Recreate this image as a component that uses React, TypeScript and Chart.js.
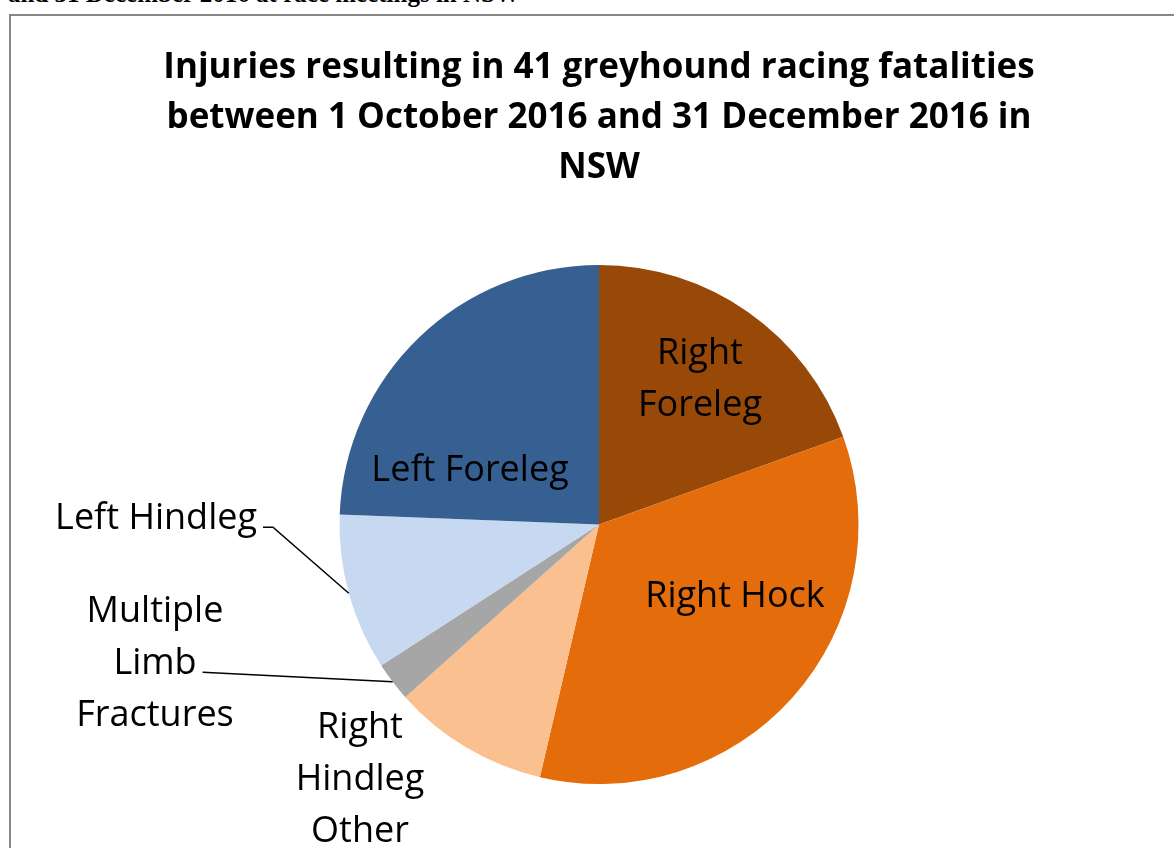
import React, { useEffect, useRef } from "react";
import { Chart, registerables } from "chart.js";

Chart.register(...registerables);

const categories = [
  "Right Foreleg",
  "Right Hock",
  "Right Hindleg Other",
  "Multiple Limb Fractures",
  "Left Hindleg",
  "Left Foreleg",
];
const fatalities = [8, 14, 4, 1, 4, 10];
const sliceColors = ["#984807", "#E46C0A", "#FAC090", "#A6A6A6", "#C6D9F1", "#376092"];
const titleLines = [
  "Injuries resulting in 41 greyhound racing fatalities",
  "between 1 October 2016 and 31 December 2016 in",
  "NSW",
];
const headerText = "and 31 December 2016 at race meetings in NSW";

// label placement relative to pie centre, in units of the pie radius
const labelLayout = [
  { lines: ["Right", "Foreleg"], fx: 0.389, fy: -0.556 },
  { lines: ["Right Hock"], fx: 0.524, fy: 0.277 },
  { lines: ["Right", "Hindleg", "Other"], fx: -0.921, fy: 0.982 },
  { lines: ["Multiple", "Limb", "Fractures"], fx: -1.711, fy: 0.535, leaderLine: 1, elbow: 0 },
  { lines: ["Left Hindleg"], fx: -1.707, fy: -0.024, leaderLine: 0, elbow: 10 },
  { lines: ["Left Foreleg"], fx: -0.497, fy: -0.209 },
];

const FONT = "'Open Sans', Lato, sans-serif";
const LABEL_LH = 52;

const labelPlugin = {
  id: "sliceLabels",
  afterDatasetsDraw(chart: any) {
    const ctx = chart.ctx as CanvasRenderingContext2D;
    const meta = chart.getDatasetMeta(0);
    ctx.save();
    ctx.font = `36px ${FONT}`;
    ctx.fillStyle = "#000";
    ctx.strokeStyle = "#000";
    ctx.lineWidth = 1.5;
    ctx.textAlign = "center";
    ctx.textBaseline = "middle";
    meta.data.forEach((arc: any, i: number) => {
      const { x, y, outerRadius, startAngle, endAngle } = arc.getProps(
        ["x", "y", "outerRadius", "startAngle", "endAngle"],
        true
      );
      const L: any = labelLayout[i];
      const cx = x + L.fx * outerRadius;
      const cy = y + L.fy * outerRadius;
      const n = L.lines.length;
      L.lines.forEach((t: string, k: number) => {
        ctx.fillText(t, cx, cy + (k - (n - 1) / 2) * LABEL_LH);
      });
      if (L.leaderLine !== undefined) {
        const mid = (startAngle + endAngle) / 2;
        const ex = x + Math.cos(mid) * outerRadius;
        const ey = y + Math.sin(mid) * outerRadius;
        const w = ctx.measureText(L.lines[L.leaderLine]).width;
        const ly = cy + (L.leaderLine - (n - 1) / 2) * LABEL_LH + 9;
        const sx = cx + w / 2 + 6;
        ctx.beginPath();
        ctx.moveTo(sx, ly);
        if (L.elbow) ctx.lineTo(sx + L.elbow, ly);
        ctx.lineTo(ex, ey);
        ctx.stroke();
      }
    });
    ctx.restore();
  },
};

export default function App() {
  const canvasRef = useRef<HTMLCanvasElement | null>(null);

  useEffect(() => {
    if (!canvasRef.current) return;
    const chart = new Chart(canvasRef.current, {
      type: "pie",
      data: {
        labels: categories,
        datasets: [
          {
            data: fatalities,
            backgroundColor: sliceColors,
            borderWidth: 0,
          },
        ],
      },
      options: {
        responsive: false,
        animation: false,
        layout: { padding: { top: 0, bottom: 64, left: 0, right: 0 } },
        plugins: {
          legend: { display: false },
          tooltip: { enabled: false },
          title: {
            display: true,
            text: titleLines,
            color: "#000",
            font: { family: FONT, size: 35, weight: "bold", lineHeight: 50 / 35 },
            padding: { top: 27, bottom: 72 },
          },
        },
      },
      plugins: [labelPlugin],
    });
    return () => chart.destroy();
  }, []);

  return (
    <div
      style={{
        position: "fixed",
        left: 0,
        top: 0,
        width: 1174,
        height: 848,
        overflow: "hidden",
        background: "#fff",
      }}
    >
      <div
        style={{
          position: "absolute",
          left: 8,
          top: -19,
          font: "bold 25px 'Liberation Serif', 'DejaVu Serif', serif",
          lineHeight: "25px",
          whiteSpace: "nowrap",
          color: "#000",
        }}
      >
        {headerText}
      </div>
      <div
        style={{
          position: "absolute",
          left: 9,
          top: 14,
          width: 1300,
          height: 1000,
          border: "2px solid #878787",
          boxSizing: "border-box",
        }}
      />
      <canvas
        ref={canvasRef}
        width={1176}
        height={832}
        style={{ position: "absolute", left: 11, top: 16, width: 1176, height: 832 }}
      />
    </div>
  );
}
